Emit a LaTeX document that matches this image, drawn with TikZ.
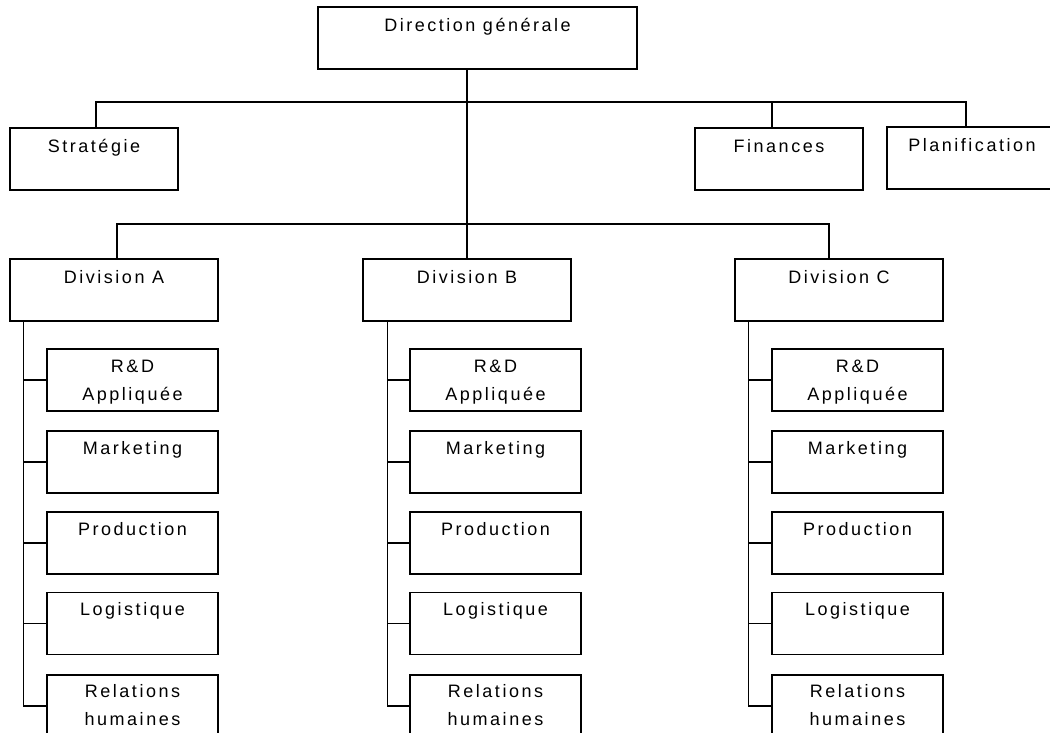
\documentclass[tikz,border=0pt]{standalone}
\usepackage{fontspec}
\setmainfont{Liberation Sans}[LetterSpace=14]
\begin{document}
\begin{tikzpicture}[x=1pt,y=-1pt,
  box/.style={draw, line width=1.3pt, rectangle, inner sep=0pt, minimum height=62pt},
  txt/.style={anchor=base, inner sep=0pt, align=center, font=\fontsize{18}{28}\selectfont},
  wire/.style={line width=1.3pt}]
\useasboundingbox (0,0) rectangle (1050,733);
\fill[white] (0,0) rectangle (1050,733);
\clip (0,0) rectangle (1050,733);
% top level
\node[box, minimum width=319pt] (dg) at (477.5,38) {};
\node[txt] (dgt) at ([yshift=-25pt]dg.north) {Direction générale};
\node[box, minimum width=168pt] (strat) at (94,159) {};
\node[txt] (stratt) at ([yshift=-25pt]strat.north) {Stratégie};
\node[box, minimum width=168pt] (fin) at (779,159) {};
\node[txt] (fint) at ([yshift=-25pt]fin.north) {Finances};
\node[box, minimum width=170pt] (plan) at (972,158) {};
\node[txt] (plant) at ([yshift=-25pt]plan.north) {Planification};
% divisions
\node[box, minimum width=208pt] (diva) at (114,290) {};
\node[txt] (divat) at ([yshift=-25pt]diva.north) {Division A};
\node[box, minimum width=208pt] (divb) at (467,290) {};
\node[txt] (divbt) at ([yshift=-25pt]divb.north) {Division B};
\node[box, minimum width=208pt] (divc) at (839,290) {};
\node[txt] (divct) at ([yshift=-25pt]divc.north) {Division C};
% buses
\coordinate (b1) at (0,102);
\coordinate (b2) at (0,224);
\path ([xshift=2pt]strat.north) coordinate (sN)
      ([xshift=-7pt]fin.north) coordinate (fN)
      ([xshift=-6pt]plan.north) coordinate (pN)
      ([xshift=3pt]diva.north) coordinate (aN)
      ([xshift=-10pt]divc.north) coordinate (cN);
\draw[wire] (divb.north |- dg.south) -- (divb.north);
\draw[wire] (sN) |- (b1 -| pN) -- (pN);
\draw[wire] (fN) -- (fN |- b1);
\draw[wire] (aN) |- (b2 -| cN) -- (cN);
% departments
\foreach \d/\x/\o in {a/132.5/14, b/495.5/25, c/857.5/14} {
  \node[box, minimum width=171pt] (\d1) at (\x,380) {};
  \node[txt] (\d1t) at ([yshift=-52pt]\d1.north) {R\&D\\Appliquée};
  \node[box, minimum width=171pt] (\d2) at (\x,462) {};
  \node[txt] (\d2t) at ([yshift=-24pt]\d2.north) {Marketing};
  \node[box, minimum width=171pt] (\d3) at (\x,543) {};
  \node[txt] (\d3t) at ([yshift=-24pt]\d3.north) {Production};
  \node[box, minimum width=171pt] (\d4) at (\x,623.5) {};
  \node[txt] (\d4t) at ([yshift=-24pt]\d4.north) {Logistique};
  \node[box, minimum width=171pt] (\d5) at (\x,706) {};
  \node[txt] (\d5t) at ([yshift=-51pt]\d5.north) {Relations\\humaines};
  \path ([xshift=\o pt]div\d.south west) coordinate (\d S);
  \draw[wire] (\d S) |- (\d5.west);
  \foreach \k in {1,2,3,4} {
    \draw[wire] (\d S |- \d\k.west) -- (\d\k.west);
  }
}
\end{tikzpicture}
\end{document}
